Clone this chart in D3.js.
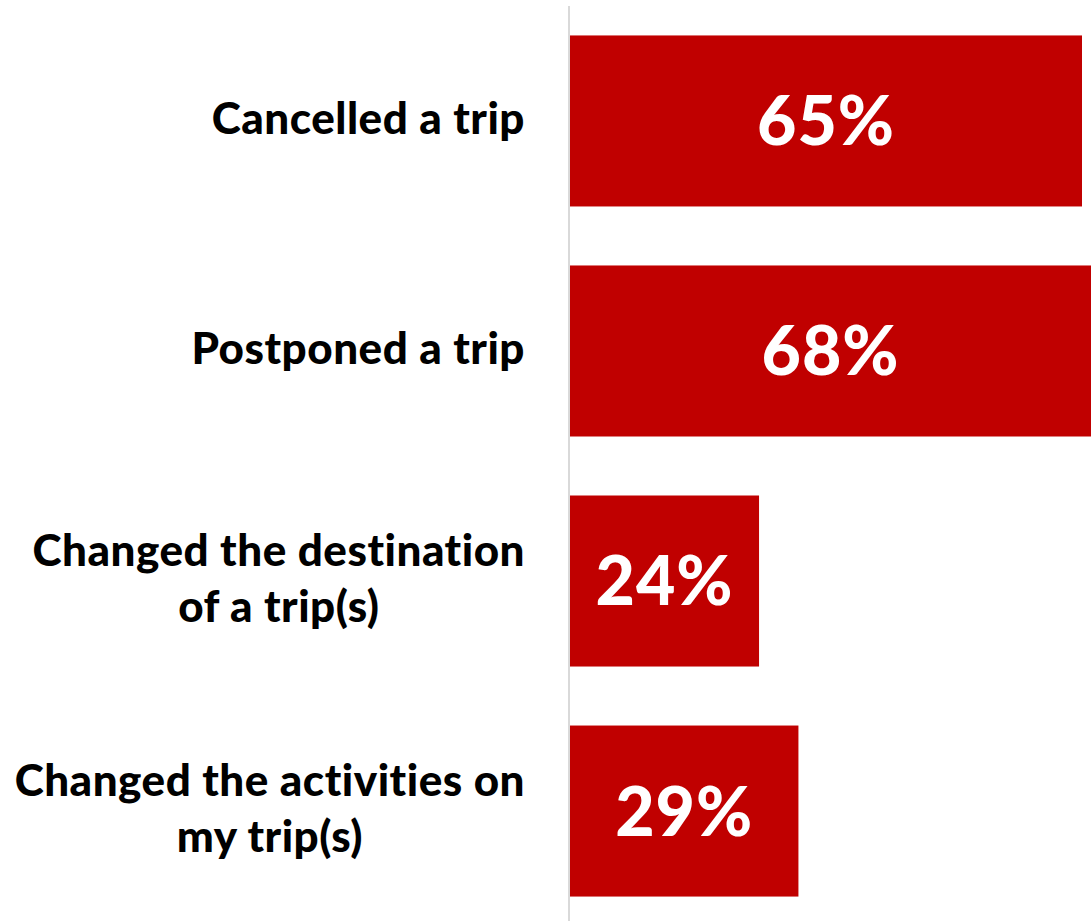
<!DOCTYPE html>
<html>
<head>
<meta charset="utf-8">
<script src="https://cdn.jsdelivr.net/npm/d3@7"></script>
<style>
    body { margin: 0; background: #fff; }
    svg { display: block; }
    .label { font-family: Lato, sans-serif; font-weight: 900; fill: #000; letter-spacing: 0.5px; }
    .value { font-family: Lato, sans-serif; font-weight: 900; fill: #fff; letter-spacing: 1px; }
</style>
</head>
<body>
<div id="chart"></div>
<script>
    // survey answers, top to bottom
    var categories = ["Cancelled a trip", "Postponed a trip", "Changed the destination|of a trip(s)", "Changed the activities on|my trip(s)"];
    var values = [65, 68, 24, 29];

    var width = 1091,
        height = 921,
        labelRight = 525;

    var svg = d3.select("#chart")
        .append("svg")
        .attr("width", width)
        .attr("height", height);

    var x = d3.scaleLinear()
        .domain([0, 65])
        .range([570, 1082]);

    var y = d3.scaleBand()
        .domain(categories)
        .range([6, 926])
        .paddingInner(0.2565)
        .paddingOuter(0.128);

    svg.selectAll("rect.bar")
        .data(values)
        .enter()
        .append("rect")
        .attr("class", "bar")
        .attr("x", x(0))
        .attr("y", function(d, i) { return y(categories[i]); })
        .attr("width", function(d) { return x(d) - x(0); })
        .attr("height", y.bandwidth())
        .style("fill", "#c00000");

    // axis line
    svg.append("line")
        .attr("x1", x(0) - 1).attr("x2", x(0) - 1)
        .attr("y1", 6).attr("y2", height)
        .style("stroke", "#d9d9d9")
        .style("stroke-width", 2);

    // category labels: block is right aligned, lines centred inside it
    var lab = svg.selectAll("text.label")
        .data(categories)
        .enter()
        .append("text")
        .attr("class", "label")
        .attr("text-anchor", "middle")
        .style("font-size", "44px")
        .attr("transform", function(d) {
            return "translate(0," + (y(d) + y.bandwidth() / 2 - 3) + ")";
        });

    lab.each(function(d) {
        var lines = d.split("|");
        var t = d3.select(this);
        var spans = lines.map(function(line, k) {
            return t.append("tspan")
                .attr("y", (k - (lines.length - 1) / 2) * 56)
                .attr("dy", "0.36em")
                .text(line);
        });
        var maxW = d3.max(spans, function(s) { return s.node().getComputedTextLength(); });
        spans.forEach(function(s) { s.attr("x", labelRight - maxW / 2); });
    });

    // value labels
    svg.selectAll("text.value")
        .data(values)
        .enter()
        .append("text")
        .attr("class", "value")
        .attr("text-anchor", "middle")
        .attr("dy", "0.36em")
        .style("font-size", "68px")
        .attr("x", function(d) { return (x(0) + Math.min(x(d), width)) / 2; })
        .attr("y", function(d, i) { return y(categories[i]) + y.bandwidth() / 2; })
        .text(function(d) { return d + "%"; });
</script>
</body>
</html>
